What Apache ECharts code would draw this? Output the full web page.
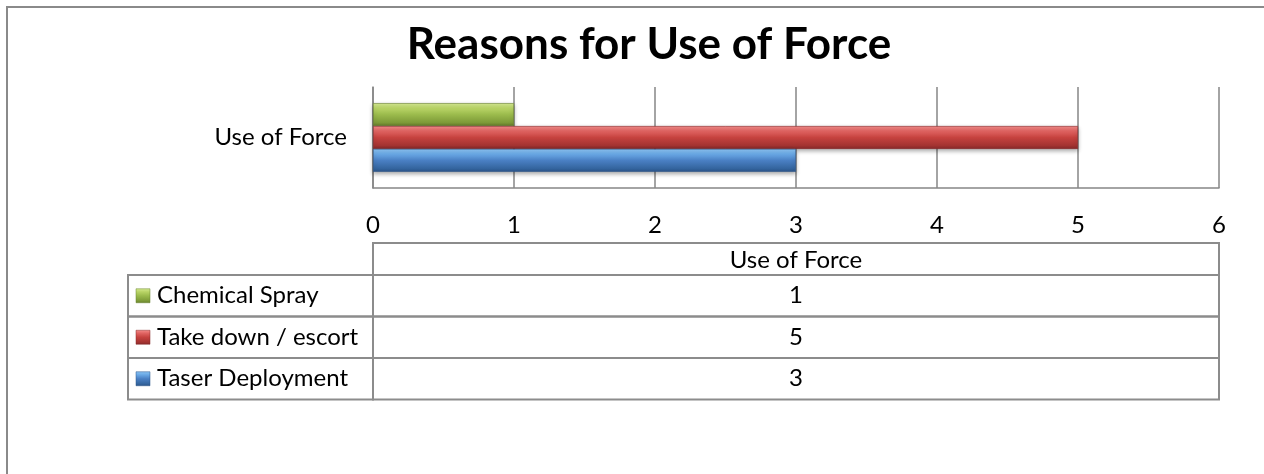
<!DOCTYPE html>
<html>
<head>
<meta charset="utf-8">
<script src="https://cdn.jsdelivr.net/npm/echarts@6/dist/echarts.min.js"></script>
<style>
html,body{margin:0;padding:0;background:#fff;}
#c{width:1264px;height:474px;}
</style>
</head>
<body>
<div id="c"></div>
<script>
const titleText = 'Reasons for Use of Force';
const categories = ['Use of Force'];
const seriesNames = ['Taser Deployment', 'Take down / escort', 'Chemical Spray'];
const taserValues = [3];
const takedownValues = [5];
const chemicalValues = [1];
const axisMin = 0, axisMax = 6, axisStep = 1;

const FONT = 'Lato, "Open Sans", sans-serif';
const palette = [
  {top:'#8cc4f2', hi:'#6aa9e6', base:'#4a80c4', low:'#34659f', edge:'#2b5488'},
  {top:'#f48c8a', hi:'#e06462', base:'#c6423f', low:'#a33331', edge:'#86292a'},
  {top:'#d6eb92', hi:'#b9d467', base:'#9bbb4c', low:'#7d9a38', edge:'#66802c'}
];
function grad(p){
  return new echarts.graphic.LinearGradient(0,0,0,1,[
    {offset:0,color:p.top},{offset:0.22,color:p.hi},{offset:0.5,color:p.base},
    {offset:0.85,color:p.low},{offset:1,color:p.edge}
  ]);
}
const allValues = [taserValues, takedownValues, chemicalValues];

const chart = echarts.init(document.getElementById('c'), null, {renderer:'canvas'});

// Table geometry
const tblLeft = 128, colDiv = 373, tblRight = 1219;
const hdrTop = 243, hdrBot = 275;
const rowH = 41.5;
const lineColor = '#8c8c8c';
const graphics = [];
graphics.push({type:'rect', shape:{x:7,y:7,width:1300,height:520}, style:{fill:'none', stroke:'#8a8a8a', lineWidth:2}, silent:true, z:-1});
graphics.push({type:'rect', shape:{x:colDiv,y:hdrTop,width:tblRight-colDiv,height:hdrBot-hdrTop}, style:{fill:'none',stroke:lineColor,lineWidth:2}, silent:true});
graphics.push({type:'text', x:(colDiv+tblRight)/2, y:(hdrTop+hdrBot)/2+1, style:{text:categories[0], fill:'#000', font:'24px '+FONT, align:'center', verticalAlign:'middle'}});
const order = [2,1,0];
order.forEach((si, r) => {
  const y0 = hdrBot + r*rowH;
  graphics.push({type:'rect', shape:{x:tblLeft,y:y0,width:colDiv-tblLeft,height:rowH}, style:{fill:'none',stroke:lineColor,lineWidth:2}, silent:true});
  graphics.push({type:'rect', shape:{x:colDiv,y:y0,width:tblRight-colDiv,height:rowH}, style:{fill:'none',stroke:lineColor,lineWidth:2}, silent:true});
  graphics.push({type:'rect', shape:{x:136,y:y0+rowH/2-7,width:14,height:14}, style:{fill:grad(palette[si]), stroke:palette[si].edge, lineWidth:0.5}});
  graphics.push({type:'text', x:157, y:y0+rowH/2, style:{text:seriesNames[si], fill:'#000', font:'24px '+FONT, align:'left', verticalAlign:'middle'}});
  graphics.push({type:'text', x:(colDiv+tblRight)/2, y:y0+rowH/2, style:{text:String(allValues[si][0]), fill:'#000', font:'24px '+FONT, align:'center', verticalAlign:'middle'}});
});
graphics.push({type:'text', x:649, y:45, style:{text:titleText, fill:'#000', font:'bold 44px '+FONT, align:'center', verticalAlign:'middle'}});

chart.setOption({
  animation:false,
  backgroundColor:'#fff',
  grid:{left:373, right:45, top:87, height:101, containLabel:false},
  xAxis:{
    type:'value', min:axisMin, max:axisMax, interval:axisStep,
    axisLine:{show:true, lineStyle:{color:'#868686', width:1.5}},
    axisTick:{show:false},
    splitLine:{show:true, lineStyle:{color:'#868686', width:1.5}},
    axisLabel:{color:'#000', fontSize:24, fontFamily:FONT, margin:25}
  },
  yAxis:{
    type:'category', data:categories,
    axisLine:{show:true, lineStyle:{color:'#868686', width:1.5}},
    axisTick:{show:false},
    axisLabel:{color:'#000', fontSize:24, fontFamily:FONT, margin:26}
  },
  // listed top-to-bottom: Chemical Spray, Take down / escort, Taser Deployment
  series: order.map(i => ({
    name: seriesNames[i], type:'bar', data: allValues[i],
    barGap:'0%', barCategoryGap:'32%',
    itemStyle:{color:grad(palette[i]), borderColor:palette[i].edge, borderWidth:0.6,
      shadowBlur:4, shadowColor:'rgba(0,0,0,0.3)', shadowOffsetY:2}
  })),
  graphic: graphics
});
</script>
</body>
</html>
